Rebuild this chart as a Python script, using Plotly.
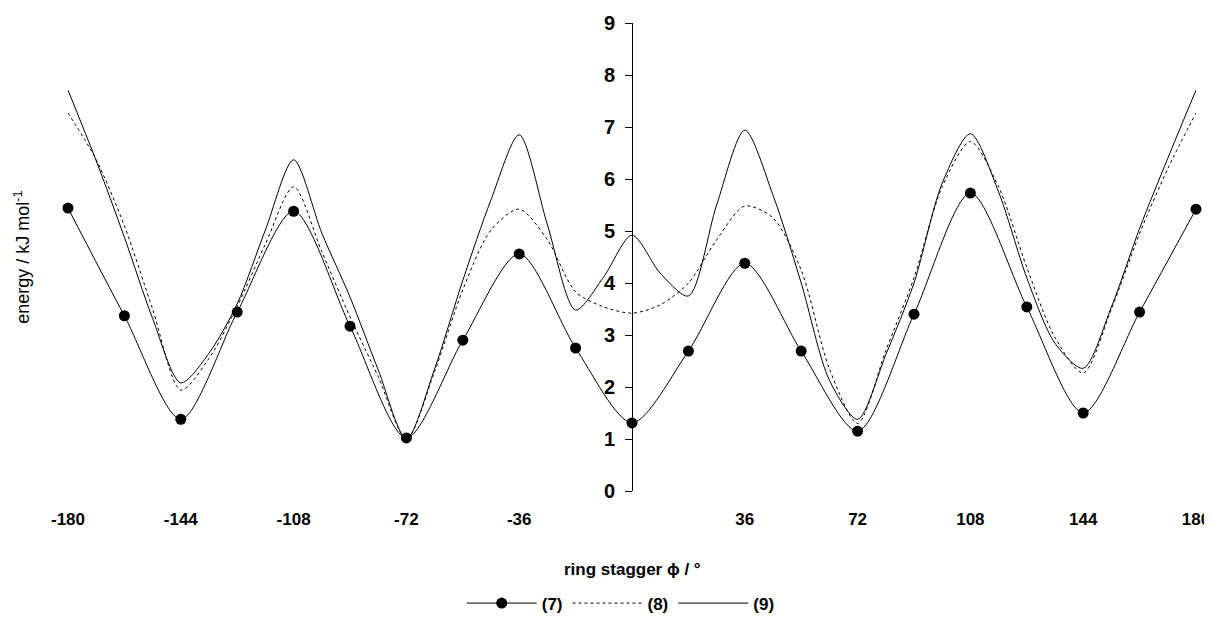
import plotly.graph_objects as go

# ring stagger angles (degrees)
phi_7 = [-180, -162, -144, -126, -108, -90, -72, -54, -36, -18, 0,
         18, 36, 54, 72, 90, 108, 126, 144, 162, 180]
energy_7 = [5.44, 3.37, 1.38, 3.44, 5.38, 3.17, 1.02, 2.90, 4.56, 2.75, 1.31,
            2.69, 4.38, 2.69, 1.15, 3.40, 5.73, 3.54, 1.50, 3.44, 5.42]

phi_curve = [-180, -171, -162, -153, -144, -135, -126, -117, -108, -99, -90,
             -81, -72, -63, -54, -45, -36, -27, -18, -9, 0,
             9, 18, 27, 36, 45, 54, 63, 72, 81, 90,
             99, 108, 117, 126, 135, 144, 153, 162, 171, 180]
energy_8 = [7.27, 6.37, 5.10, 3.50, 1.94, 2.55, 3.55, 4.75, 5.85, 4.60, 3.35,
            2.20, 1.00, 2.30, 3.87, 5.02, 5.42, 4.83, 3.83, 3.54, 3.42,
            3.58, 4.00, 4.83, 5.48, 5.25, 4.25, 2.35, 1.30, 2.70, 4.10,
            5.85, 6.72, 5.85, 4.30, 2.95, 2.27, 3.50, 4.95, 6.20, 7.27]
energy_9 = [7.71, 6.35, 4.88, 3.32, 2.08, 2.65, 3.60, 5.02, 6.37, 4.96, 3.73,
            2.33, 1.00, 2.35, 4.05, 5.60, 6.85, 5.12, 3.48, 4.12, 4.92,
            4.19, 3.75, 5.50, 6.94, 5.69, 4.00, 2.13, 1.38, 2.62, 4.00,
            5.92, 6.87, 5.75, 4.10, 2.84, 2.36, 3.54, 5.05, 6.40, 7.71]

x_ticks = [-180, -144, -108, -72, -36, 36, 72, 108, 144, 180]
y_ticks = [0, 1, 2, 3, 4, 5, 6, 7, 8, 9]

FONT = "Liberation Sans, Arial, sans-serif"

fig = go.Figure()
fig.add_trace(go.Scatter(
    x=phi_7, y=energy_7, name="(7)", mode="lines+markers",
    line=dict(color="black", width=1, shape="spline", smoothing=0.8),
    marker=dict(symbol="circle", size=11, color="black"),
    cliponaxis=False))
fig.add_trace(go.Scatter(
    x=phi_curve, y=energy_8, name="(8)", mode="lines",
    line=dict(color="black", width=1, dash="3px,3px", shape="spline", smoothing=0.8),
    cliponaxis=False))
fig.add_trace(go.Scatter(
    x=phi_curve, y=energy_9, name="(9)", mode="lines",
    line=dict(color="black", width=1, shape="spline", smoothing=0.8),
    cliponaxis=False))

fig.update_layout(
    width=1204, height=611,
    margin=dict(l=60, r=16, t=15, b=128, autoexpand=False),
    paper_bgcolor="white", plot_bgcolor="white",
    font=dict(family=FONT, color="black"),
    showlegend=True,
    legend=dict(orientation="h", x=0.49, xanchor="center", y=-0.202, yanchor="top",
                font=dict(family=FONT, size=17, color="black", weight="bold"),
                bgcolor="rgba(0,0,0,0)", itemwidth=70, traceorder="normal"),
    xaxis=dict(range=[-180, 180], tickvals=x_ticks, ticktext=[str(v) for v in x_ticks],
               showline=False, showgrid=False, zeroline=False, ticks="",
               automargin=False, ticklabelstandoff=16, ticklabeloverflow="allow",
               tickfont=dict(family=FONT, size=17, color="black", weight="bold")),
    yaxis=dict(range=[0, 9], tickvals=y_ticks, anchor="free", position=0.5, side="left",
               showline=True, linecolor="black", linewidth=1,
               ticks="outside", ticklen=7, tickcolor="black", tickwidth=1,
               showgrid=False, zeroline=False, automargin=False, ticklabelstandoff=6,
               tickfont=dict(family=FONT, size=20, color="black", weight="bold")),
    annotations=[
        dict(text="ring stagger ϕ / °", xref="paper", yref="paper", x=0.5, y=-0.168,
             xanchor="center", yanchor="middle", showarrow=False,
             font=dict(family=FONT, size=17, color="black", weight="bold")),
        dict(text="energy / kJ mol<sup>-1</sup>", xref="paper", yref="paper", x=-0.041, y=0.5,
             xanchor="center", yanchor="middle", showarrow=False, textangle=-90,
             font=dict(family=FONT, size=18, color="black")),
    ],
)

fig.write_html("out.html")
